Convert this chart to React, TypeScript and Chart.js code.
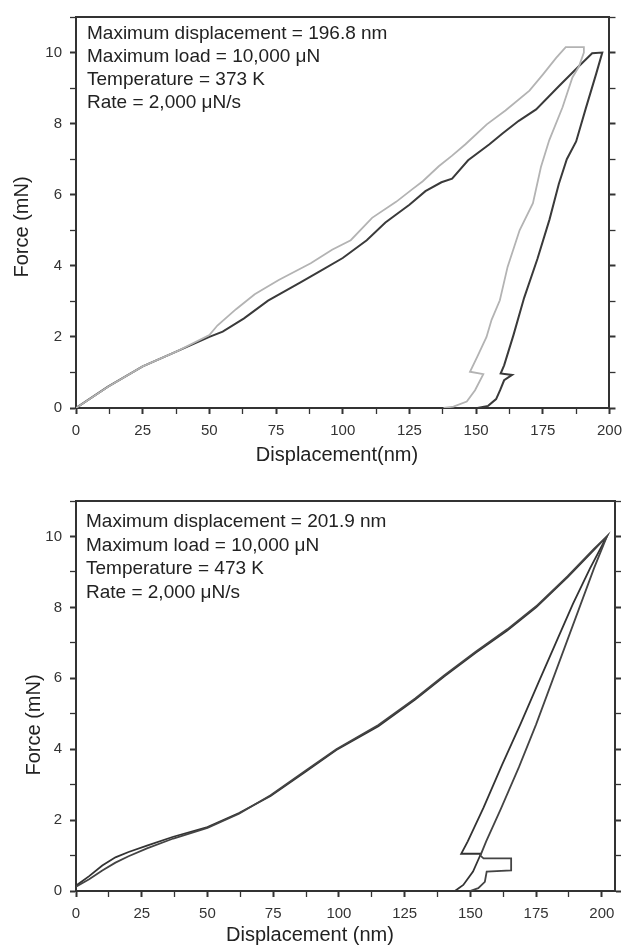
import React, { useEffect, useRef } from "react";
import { Chart, registerables } from "chart.js";

Chart.register(...registerables);

// ---------- axis ticks ----------
const xTickLabels = [0, 25, 50, 75, 100, 125, 150, 175, 200];
const yTickLabels = [0, 2, 4, 6, 8, 10];

// ---------- panel 1 : 373 K ----------
const notes373 = [
  "Maximum displacement = 196.8 nm",
  "Maximum load = 10,000 \u03bcN",
  "Temperature = 373 K",
  "Rate = 2,000 \u03bcN/s",
];
const xTitle373 = "Displacement(nm)";

const dark373Disp = [0, 12, 25, 38, 50, 55, 63, 72, 84, 92, 100, 109, 116, 125, 131, 137, 141, 147, 155, 160, 166, 172.5, 181, 187, 193.5, 197.3, 195, 191.2, 187.5, 184, 181, 177.5, 173, 168, 164, 160.5, 159.2, 163.5, 160.5, 159, 157.5, 154.5, 150.5];
const dark373Force = [0, 0.6, 1.17, 1.6, 2.0, 2.15, 2.52, 3.02, 3.53, 3.87, 4.22, 4.72, 5.22, 5.72, 6.1, 6.35, 6.45, 6.97, 7.42, 7.73, 8.08, 8.4, 9.05, 9.5, 9.98, 10.0, 9.4, 8.45, 7.5, 7.0, 6.3, 5.3, 4.2, 3.1, 2.05, 1.2, 0.97, 0.93, 0.78, 0.5, 0.25, 0.06, 0];

const gray373Disp = [0, 12, 25, 38, 50, 53, 60, 67, 76, 88, 96, 103, 111, 120, 126, 130, 136, 141, 146, 154, 161, 170, 175, 180, 183.6, 190.4, 190.4, 188.5, 186.1, 182.4, 177.4, 174.3, 171.3, 166.3, 161.8, 158.9, 155.8, 153.9, 150.5, 147.7, 152.7, 149.6, 146.5, 141.5, 137.8];
const gray373Force = [0, 0.6, 1.17, 1.6, 2.05, 2.32, 2.78, 3.2, 3.6, 4.07, 4.45, 4.72, 5.35, 5.8, 6.15, 6.38, 6.8, 7.1, 7.42, 7.98, 8.37, 8.93, 9.38, 9.85, 10.15, 10.15, 10.0, 9.6, 9.3, 8.46, 7.53, 6.78, 5.76, 5.0, 3.97, 3.03, 2.48, 2.0, 1.45, 1.02, 0.95, 0.5, 0.18, 0.04, 0];

// ---------- panel 2 : 473 K ----------
const notes473 = [
  "Maximum displacement = 201.9 nm",
  "Maximum load = 10,000 \u03bcN",
  "Temperature = 473 K",
  "Rate = 2,000 \u03bcN/s",
];
const xTitle473 = "Displacement (nm)";

const runA473Disp = [0, 5, 10, 15, 20, 27, 37, 50, 62, 74, 87, 99, 115, 129, 140, 152, 164, 175, 187, 197, 201.9, 195.5, 189, 182.5, 176, 169, 162, 155, 149, 146.5, 154, 151, 147.3, 144.1];
const runA473Force = [0.15, 0.42, 0.72, 0.95, 1.1, 1.28, 1.53, 1.8, 2.2, 2.68, 3.35, 3.98, 4.65, 5.4, 6.05, 6.72, 7.35, 8.0, 8.85, 9.62, 10.0, 9.1, 8.1, 7.0, 5.9, 4.7, 3.55, 2.35, 1.4, 1.05, 1.05, 0.55, 0.17, 0];

const runB473Disp = [0, 5, 10, 15, 20, 27, 37, 50, 62, 74, 87, 99, 115, 129, 140, 152, 164, 175, 187, 197, 201.9, 197, 192, 186.5, 181, 175, 168.5, 161.5, 156, 153.8, 155, 165.5, 165.5, 156.2, 155.5, 153, 149.8];
const runB473Force = [0.12, 0.33, 0.58, 0.8, 0.98, 1.2, 1.48, 1.78, 2.18, 2.7, 3.38, 4.0, 4.68, 5.43, 6.08, 6.75, 7.38, 8.03, 8.88, 9.65, 10.0, 9.1, 8.1, 7.0, 5.9, 4.7, 3.5, 2.3, 1.4, 1.0, 0.92, 0.92, 0.58, 0.55, 0.26, 0.08, 0];

const yTitle = "Force (mN)";

const FONT = '"Liberation Sans", Arial, Helvetica, sans-serif';
const AXIS = "#333333";

type Curve = { disp: number[]; force: number[]; color: string; width: number };
type Panel = {
  h: number;
  padTop: number;
  plotBottom: number;
  xMax: number;
  curves: Curve[];
  notes: string[];
  noteDx: number;
  noteDy: number;
  noteGap: number;
  xTitle: string;
  xTitleX: number;
  xTitleY: number;
  yTitleX: number;
  yTitleY: number;
};

function textPlugin(p: Panel) {
  return {
    id: "panelText",
    afterDraw(chart: any) {
      const { ctx, chartArea } = chart;
      ctx.save();
      ctx.fillStyle = "#222";
      ctx.textBaseline = "middle";
      ctx.textAlign = "left";
      ctx.font = `19px ${FONT}`;
      p.notes.forEach((t, i) => {
        ctx.fillText(t, chartArea.left + p.noteDx, chartArea.top + p.noteDy + i * p.noteGap);
      });
      ctx.font = `20px ${FONT}`;
      ctx.textAlign = "center";
      ctx.fillText(p.xTitle, p.xTitleX, p.xTitleY);
      ctx.translate(p.yTitleX, p.yTitleY);
      ctx.rotate(-Math.PI / 2);
      ctx.fillText(yTitle, 0, 0);
      ctx.restore();
    },
  };
}

function buildChart(canvas: HTMLCanvasElement, p: Panel) {
  const datasets = p.curves.map((c) => ({
    data: c.disp.map((x, i) => ({ x, y: c.force[i] })),
    borderColor: c.color,
    backgroundColor: c.color,
    borderWidth: c.width,
    showLine: true,
    pointRadius: 0,
    pointHoverRadius: 0,
    fill: false,
    tension: 0,
  }));
  const tickFont = { family: FONT, size: 15 };
  const xMajor = (ctx: any) => (ctx.tick && xTickLabels.includes(ctx.tick.value) ? 2 : 1.3);
  const yMajor = (ctx: any) => (ctx.tick && yTickLabels.includes(ctx.tick.value) ? 2 : 1.3);
  return new Chart(canvas, {
    type: "scatter",
    data: { datasets },
    plugins: [textPlugin(p)],
    options: {
      responsive: false,
      animation: false,
      devicePixelRatio: 1,
      layout: { padding: { top: p.padTop, left: 0, right: 0, bottom: 0 } },
      plugins: { legend: { display: false }, tooltip: { enabled: false } },
      scales: {
        x: {
          type: "linear",
          position: "bottom",
          min: 0,
          max: p.xMax,
          ticks: {
            stepSize: 12.5,
            includeBounds: false,
            autoSkip: false,
            maxRotation: 0,
            padding: 8,
            color: AXIS,
            font: tickFont,
            callback: (v: any) => (xTickLabels.includes(Number(v)) ? String(v) : ""),
          },
          grid: { drawOnChartArea: false, drawTicks: true, tickLength: 6, tickColor: AXIS, tickWidth: xMajor },
          border: { display: true, color: AXIS, width: 2 },
          afterFit: (s: any) => {
            s.height = p.h - p.plotBottom;
          },
        },
        x2: {
          type: "linear",
          position: "top",
          min: 0,
          max: p.xMax,
          ticks: { display: false },
          grid: { drawOnChartArea: false, drawTicks: false },
          border: { display: true, color: AXIS, width: 2 },
          afterFit: (s: any) => {
            s.height = 0;
          },
        },
        y: {
          type: "linear",
          position: "left",
          min: 0,
          max: 11,
          ticks: {
            stepSize: 1,
            includeBounds: false,
            autoSkip: false,
            padding: 8,
            color: AXIS,
            font: tickFont,
            callback: (v: any) => (yTickLabels.includes(Number(v)) ? String(v) : ""),
          },
          grid: { drawOnChartArea: false, drawTicks: true, tickLength: 6, tickColor: AXIS, tickWidth: yMajor },
          border: { display: true, color: AXIS, width: 2 },
          afterFit: (s: any) => {
            s.width = 76;
          },
        },
        y2: {
          type: "linear",
          position: "right",
          min: 0,
          max: 11,
          ticks: { display: false, stepSize: 1, includeBounds: false },
          grid: { drawOnChartArea: false, drawTicks: true, tickLength: 6, tickColor: AXIS, tickWidth: yMajor },
          border: { display: true, color: AXIS, width: 2 },
          afterFit: (s: any) => {
            s.width = 15;
          },
        },
      },
    } as any,
  });
}

const panel373: Panel = {
  h: 470,
  padTop: 16,
  plotBottom: 408,
  xMax: 200,
  curves: [
    { disp: gray373Disp, force: gray373Force, color: "#b3b3b3", width: 1.8 },
    { disp: dark373Disp, force: dark373Force, color: "#3a3a3a", width: 2 },
  ],
  notes: notes373,
  noteDx: 11,
  noteDy: 17,
  noteGap: 23,
  xTitle: xTitle373,
  xTitleX: 337,
  xTitleY: 455,
  yTitleX: 22,
  yTitleY: 227,
};

const panel473: Panel = {
  h: 477,
  padTop: 31,
  plotBottom: 421,
  xMax: 205,
  curves: [
    { disp: runB473Disp, force: runB473Force, color: "#444444", width: 1.8 },
    { disp: runA473Disp, force: runA473Force, color: "#333333", width: 1.8 },
  ],
  notes: notes473,
  noteDx: 10,
  noteDy: 21,
  noteGap: 23.5,
  xTitle: xTitle473,
  xTitleX: 310,
  xTitleY: 465,
  yTitleX: 34,
  yTitleY: 255,
};

function PanelChart({ panel }: { panel: Panel }) {
  const ref = useRef<HTMLCanvasElement | null>(null);
  useEffect(() => {
    if (!ref.current) return;
    const chart = buildChart(ref.current, panel);
    return () => chart.destroy();
  }, [panel]);
  return <canvas ref={ref} width={630} height={panel.h} style={{ display: "block", width: 630, height: panel.h }} />;
}

export default function App() {
  return (
    <div style={{ position: "absolute", left: 0, top: 0, width: 630, height: 947, background: "#ffffff" }}>
      <PanelChart panel={panel373} />
      <PanelChart panel={panel473} />
    </div>
  );
}
